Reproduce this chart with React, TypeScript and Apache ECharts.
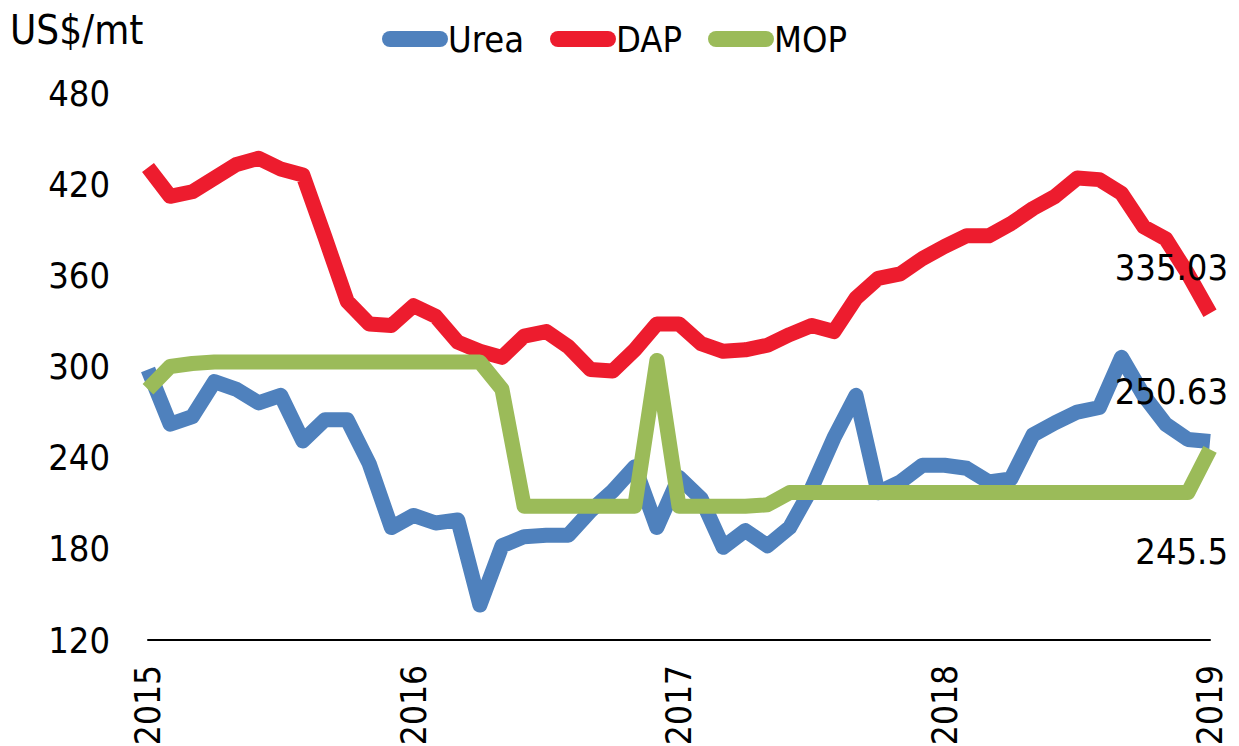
import React, { useEffect, useRef } from "react";
import * as echarts from "echarts";

const years = ["2015", "2016", "2017", "2018", "2019"];
const months = ["01", "02", "03", "04", "05", "06", "07", "08", "09", "10", "11", "12"];
const categories: string[] = [];
for (let y = 0; y < 4; y++) for (const m of months) categories.push(`${years[y]}-${m}`);
categories.push("2019-01");

const urea = [
  298, 262, 267, 290, 285, 276, 281, 251, 265, 265, 236, 194,
  202, 197, 199, 143, 182, 188, 189, 189, 205, 218, 234, 194,
  227, 213, 181, 192, 182, 194, 220, 253, 281, 217, 224, 235,
  235, 233, 224, 226, 255, 263, 270, 273, 306, 281, 262, 252,
  250.63,
];
const dap = [
  431, 412, 415, 424, 433, 437, 430, 426, 385, 343, 328, 327,
  340, 333, 316, 310, 306, 320, 323, 313, 298, 297, 311, 328,
  328, 315, 310, 311, 314, 321, 327, 323, 345, 358, 361, 371,
  379, 386, 386, 394, 404, 412, 424, 423, 414, 392, 384, 361,
  335.03,
];
const mop = [
  285, 300, 302, 303, 303, 303, 303, 303, 303, 303, 303, 303,
  303, 303, 303, 303, 285, 208, 208, 208, 208, 208, 208, 304,
  208, 208, 208, 208, 209, 217, 217, 217, 217, 217, 217, 217,
  217, 217, 217, 217, 217, 217, 217, 217, 217, 217, 217, 217,
  245.5,
];
const yTicks = { min: 120, max: 480, interval: 60 };

const FONT = "'Liberation Sans Narrow', 'Arial Narrow', 'DejaVu Sans Condensed', sans-serif";

function withEndLabel(values: number[], offset: [number, number]) {
  return values.map((v, i) =>
    i === values.length - 1
      ? {
          value: v,
          label: {
            show: true,
            position: "inside",
            align: "right",
            verticalAlign: "middle",
            offset,
            formatter: String(v),
            fontSize: 36,
            fontFamily: FONT,
            color: "#000",
          },
        }
      : v
  );
}

export default function App() {
  const ref = useRef<HTMLDivElement>(null);
  useEffect(() => {
    if (!ref.current) return;
    const chart = echarts.init(ref.current, undefined, { renderer: "svg" });
    const lineBase = (name: string, color: string, data: any[]) => ({
      name,
      type: "line",
      data,
      symbol: "circle",
      symbolSize: 0.01,
      showSymbol: true,
      itemStyle: { color },
      lineStyle: { color, width: 15, cap: "butt", join: "round" },
      emphasis: { disabled: true },
    });
    chart.setOption({
      animation: false,
      backgroundColor: "#fff",
      title: {
        text: "US$/mt",
        left: 5,
        top: 5,
        textStyle: { fontSize: 40, fontWeight: "normal", fontFamily: FONT, color: "#000" },
      },
      legend: {
        left: 377,
        top: 16,
        itemWidth: 66,
        itemHeight: 16,
        itemGap: 26,
        icon: "path://M8,0 H58 A8,8 0 0 1 58,16 H8 A8,8 0 0 1 8,0 Z",
        textStyle: { fontSize: 36, fontFamily: FONT, color: "#000", padding: [0, 0, 0, -5] },
        data: [
          { name: "Urea", itemStyle: { color: "#4F81BD" } },
          { name: "DAP", itemStyle: { color: "#ED1C2E" } },
          { name: "MOP", itemStyle: { color: "#9BBB59" } },
        ],
      },
      grid: { left: 148, right: 29, top: 93, bottom: 106, containLabel: false, outerBoundsMode: "none" },
      xAxis: {
        type: "category",
        data: categories,
        boundaryGap: false,
        axisLine: { lineStyle: { color: "#000", width: 2 } },
        axisTick: { show: false },
        axisLabel: {
          interval: 11,
          rotate: 90,
          margin: 25,
          fontSize: 35,
          fontFamily: FONT,
          color: "#000",
          formatter: (v: string) => v.slice(0, 4),
        },
        splitLine: { show: false },
      },
      yAxis: {
        type: "value",
        min: yTicks.min,
        max: yTicks.max,
        interval: yTicks.interval,
        axisLine: { show: false },
        axisTick: { show: false },
        splitLine: { show: false },
        axisLabel: { margin: 38, fontSize: 36, fontFamily: FONT, color: "#000" },
      },
      series: [
        lineBase("Urea", "#4F81BD", withEndLabel(urea, [18, -50])),
        lineBase("DAP", "#ED1C2E", withEndLabel(dap, [18, -46])),
        lineBase("MOP", "#9BBB59", withEndLabel(mop, [18, 102])),
      ],
    });
    return () => chart.dispose();
  }, []);
  return (
    <div
      ref={ref}
      style={{ position: "fixed", left: 0, top: 0, width: 1239, height: 746, background: "#fff" }}
    />
  );
}
